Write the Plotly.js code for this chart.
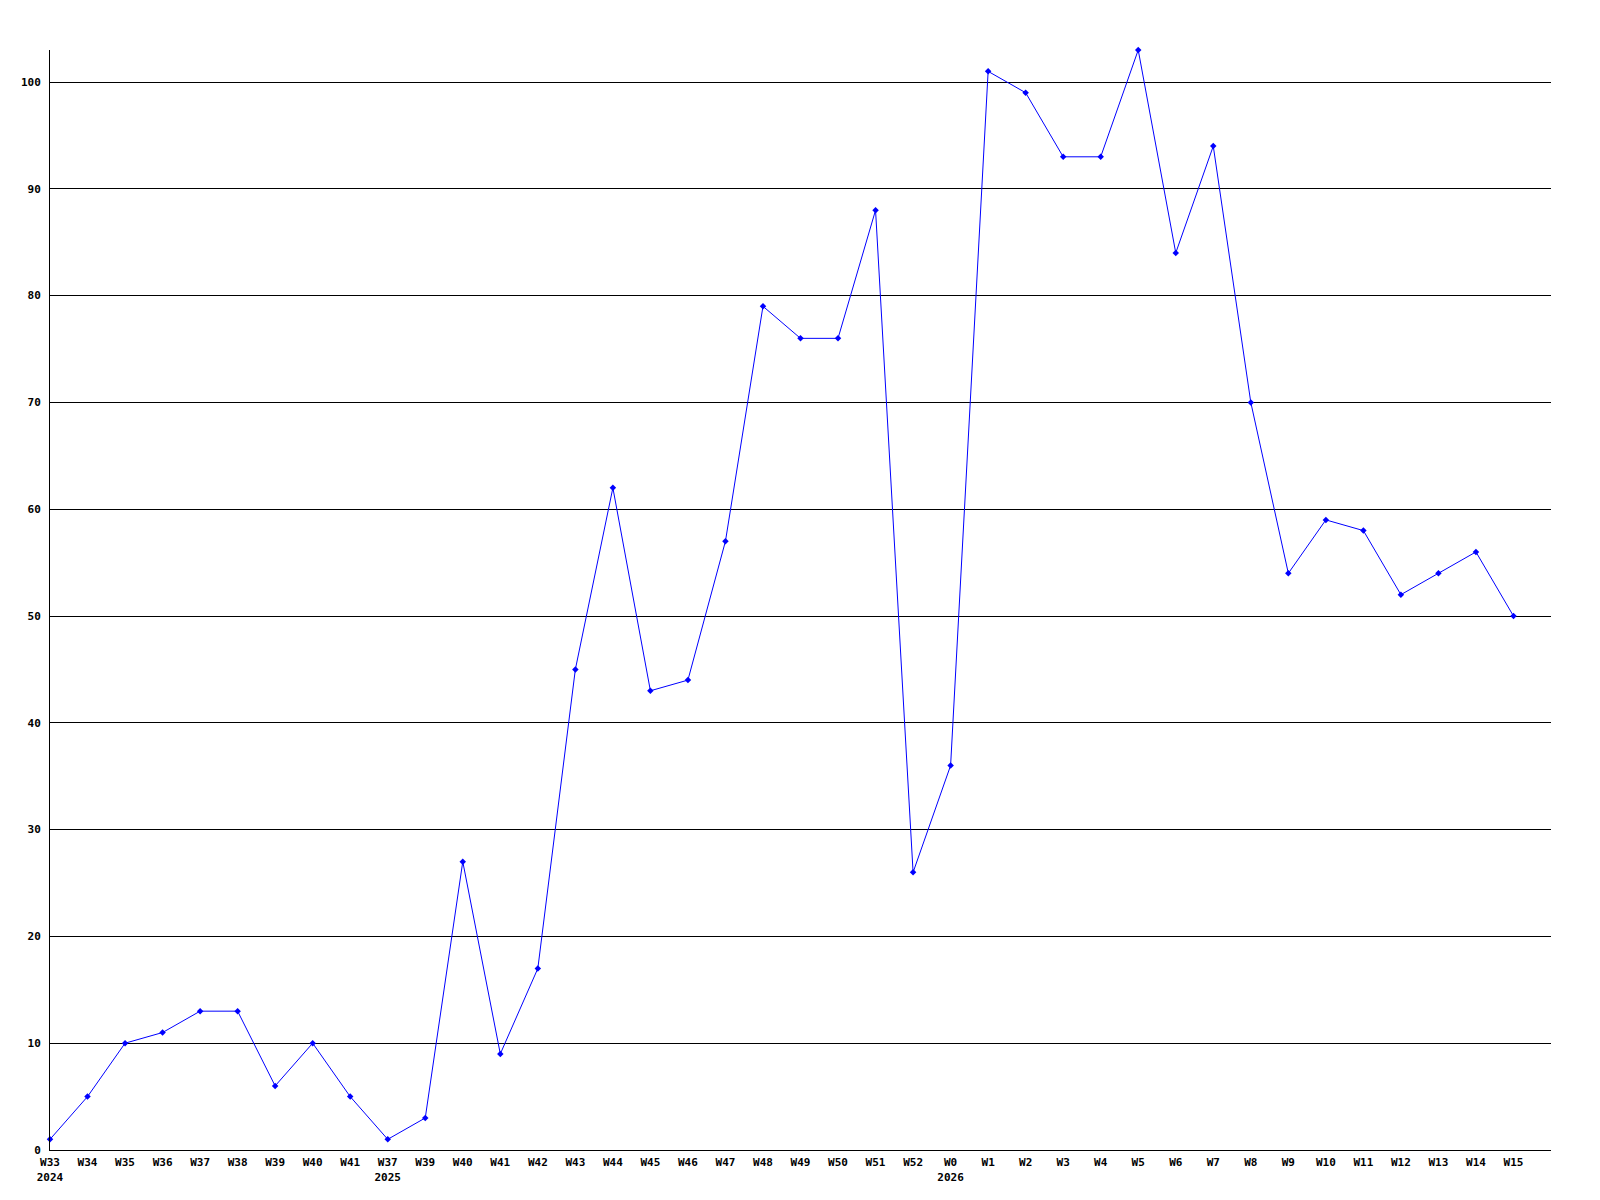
<!DOCTYPE html>
<html>
<head>
<meta charset="utf-8">
<script src="https://cdn.plot.ly/plotly-3.0.1.min.js"></script>
<style>html,body{margin:0;padding:0;background:#fff;}#chart{width:1600px;height:1200px;}</style>
</head>
<body>
<div id="chart"></div>
<script>
const weekLabels = ["W33<br>2024","W34","W35","W36","W37","W38","W39","W40","W41",
  "W37<br>2025","W39","W40","W41","W42","W43","W44","W45","W46","W47","W48","W49","W50","W51","W52",
  "W0<br>2026","W1","W2","W3","W4","W5","W6","W7","W8","W9","W10","W11","W12","W13","W14","W15"];
const values = [1,5,10,11,13,13,6,10,5,
  1,3,27,9,17,45,62,43,44,57,79,76,76,88,26,
  36,101,99,93,93,103,84,94,70,54,59,58,52,54,56,50];
const yTicks = [0,10,20,30,40,50,60,70,80,90,100];

const xIdx = weekLabels.map((_, i) => i);
const tickFont = {family: "DejaVu Sans Mono, monospace", size: 11, color: "#000", weight: "bold"};

Plotly.newPlot("chart", [{
  x: xIdx,
  y: values,
  type: "scatter",
  mode: "lines+markers",
  cliponaxis: false,
  line: {color: "#0000ff", width: 1},
  marker: {color: "#0000ff", size: 5, symbol: "diamond"},
  hoverinfo: "y"
}], {
  width: 1600, height: 1200,
  margin: {l: 50, r: 49, t: 50, b: 50},
  paper_bgcolor: "#fff", plot_bgcolor: "#fff",
  showlegend: false,
  xaxis: {
    range: [0, 40],
    tickmode: "array", tickvals: xIdx, ticktext: weekLabels,
    showgrid: false, zeroline: false,
    showline: true, linecolor: "#000", linewidth: 1,
    ticks: "", tickfont: tickFont, tickangle: 0, ticklabelstandoff: 2
  },
  yaxis: {
    range: [0, 103],
    tickmode: "array", tickvals: yTicks, ticktext: yTicks.map(String),
    showgrid: true, gridcolor: "#000", gridwidth: 1,
    zeroline: false,
    showline: true, linecolor: "#000", linewidth: 1,
    ticks: "", tickfont: tickFont, ticklabelstandoff: 6
  }
}, {displayModeBar: false, staticPlot: true});
</script>
</body>
</html>
